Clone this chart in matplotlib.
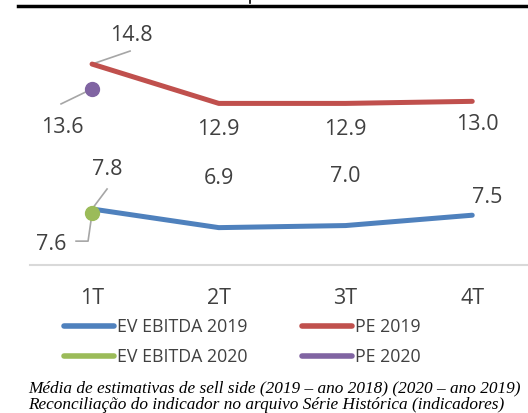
import matplotlib.pyplot as plt
from matplotlib.lines import Line2D

quarters = ["1T", "2T", "3T", "4T"]
ev_2019 = [7.8, 6.9, 7.0, 7.5]
pe_2019 = [14.8, 12.9, 12.9, 13.0]
ev_2020 = [7.6]
pe_2020 = [13.6]

blue = "#4f81bd"
red = "#c0504d"
green = "#9bbb59"
purple = "#8064a2"
txt = "#404040"
lead = "#a6a6a6"

W, H = 528, 414
fig = plt.figure(figsize=(W / 100, H / 100), dpi=100, facecolor="white")


def px(x0, y0, w, h):
    # pixel box (top-left origin) -> figure fraction
    return [x0 / W, 1 - (y0 + h) / H, w / W, h / H]


# gray panel behind chart and caption
bg = fig.add_axes(px(14, 10, W - 14, H - 10), zorder=-1)
bg.set_facecolor("#f7f7f7")
bg.axis("off")
bg.patch.set_visible(True)

# black rule on top and a stub of the cut title
fig.add_artist(Line2D([18 / W, 1], [1 - 7 / H] * 2, color="black", lw=2.5))
fig.add_artist(Line2D([250 / W] * 2, [1, 1 - 4 / H], color="black", lw=1.2))

ax = fig.add_axes(px(14, 10, 514, 256))
ax.set_facecolor("none")
ax.set_xlim(-0.616, 3.44)
ax.set_ylim(5.095, 17.46)
for s in ax.spines.values():
    s.set_visible(False)
ax.set_xticks([])
ax.set_yticks([])
ax.axhline(5.095, xmin=16 / 514, xmax=1, color="#d9d9d9", lw=1.5, clip_on=False)

x = list(range(len(quarters)))
ax.plot(x, pe_2019, color=red, lw=3.6, solid_capstyle="round", zorder=3)
ax.plot(x, ev_2019, color=blue, lw=3.6, solid_capstyle="round", zorder=3)
ax.plot([0], pe_2020, "o", color=purple, ms=10, zorder=4)
ax.plot([0], ev_2020, "o", color=green, ms=10, zorder=4)

font = dict(family=["Open Sans", "DejaVu Sans"], color=txt)


def label(xv, yv, s, dx, dy):
    ax.annotate(s, (xv, yv), xytext=(dx, dy), textcoords="offset pixels",
                ha="center", va="center", fontsize=15.5, **font)


def leader(xv, yv, pts):
    # polyline starting at the data point, offsets in pixels
    t = ax.transData.transform((xv, yv))
    inv = ax.transData.inverted()
    path = [(0, 0)] + pts
    xy = [inv.transform((t[0] + a, t[1] + b)) for a, b in path]
    ax.plot([p[0] for p in xy], [p[1] for p in xy], color=lead, lw=1.2,
            zorder=2, clip_on=False)


# PE 2019 labels
label(0, pe_2019[0], "14.8", 39, 30)
leader(0, pe_2019[0], [(38, 13)])
for i in range(1, 3):
    label(i, pe_2019[i], f"{pe_2019[i]:.1f}", 0, -25)
label(3, pe_2019[3], f"{pe_2019[3]:.1f}", 5, -22)

# PE 2020
label(0, pe_2020[0], "13.6", -30, -38)
leader(0, pe_2020[0], [(-31, -15)])

# EV EBITDA 2019
label(0, ev_2019[0], "7.8", 15, 40)
leader(0, ev_2019[0], [(15, 20)])
for i in range(1, 3):
    label(i, ev_2019[i], f"{ev_2019[i]:.1f}", 0, 50)
label(3, ev_2019[3], f"{ev_2019[3]:.1f}", 15, 19)

# EV EBITDA 2020
label(0, ev_2020[0], "7.6", -41, -30)
leader(0, ev_2020[0], [(-4, -28), (-16, -28)])

# category labels
for i, q in enumerate(quarters):
    fig.text((92 + i * 126.7) / W, 1 - 299 / H, q, ha="center", va="center",
             fontsize=15.5, **font)

# legend
leg = [("EV EBITDA 2019", blue, 62, 327), ("PE 2019", red, 300, 327),
       ("EV EBITDA 2020", green, 62, 357), ("PE 2020", purple, 300, 357)]
for name, c, lx, ly in leg:
    fig.add_artist(Line2D([(lx + 2) / W, (lx + 52) / W], [1 - ly / H] * 2,
                          color=c, lw=4, solid_capstyle="round"))
    fig.text((lx + 55) / W, 1 - ly / H, name, ha="left", va="center",
             fontsize=12.8, **font)

cap_font = dict(family=["Liberation Serif", "DejaVu Serif"], style="italic", color="black")
fig.text(28 / W, 1 - 388 / H,
         "Média de estimativas de sell side (2019 – ano 2018) (2020 – ano 2019)",
         ha="left", va="center", fontsize=12.4, **cap_font)
fig.text(28 / W, 1 - 405 / H,
         "Reconciliação do indicador no arquivo Série Histórica (indicadores)",
         ha="left", va="center", fontsize=12.4, **cap_font)

fig.savefig("out.png", dpi=100, facecolor="white")
